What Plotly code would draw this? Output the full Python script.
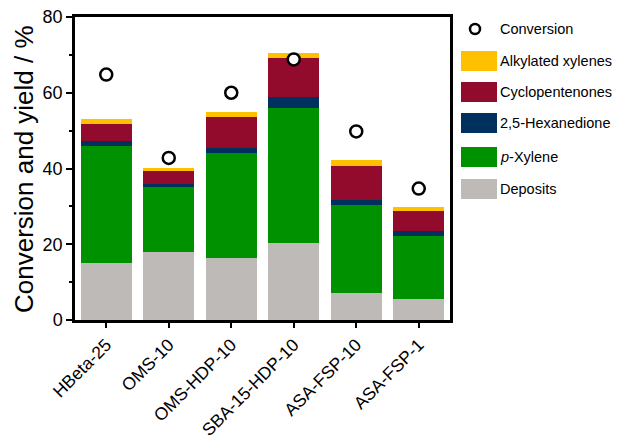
import plotly.graph_objects as go

categories = ["HBeta-25", "OMS-10", "OMS-HDP-10", "SBA-15-HDP-10", "ASA-FSP-10", "ASA-FSP-1"]
deposits = [15.0, 17.9, 16.4, 20.2, 7.1, 5.6]
p_xylene = [30.9, 17.3, 27.7, 35.7, 23.2, 16.6]
hexanedione = [1.4, 0.7, 1.4, 3.0, 1.5, 1.2]
cyclopentenones = [4.5, 3.4, 8.1, 10.2, 8.8, 5.3]
alkylated_xylenes = [1.2, 0.9, 1.3, 1.3, 1.7, 1.2]
conversion = [64.8, 42.8, 60.0, 68.8, 49.8, 34.7]
y_ticks = [0, 20, 40, 60, 80]
y_minor_ticks = [10, 30, 50, 70]

series = [
    ("Deposits", deposits, "#BEBAB8"),
    ("<i>p</i>-Xylene", p_xylene, "#009100"),
    ("2,5-Hexanedione", hexanedione, "#00305E"),
    ("Cyclopentenones", cyclopentenones, "#930B2C"),
    ("Alkylated xylenes", alkylated_xylenes, "#FFC000"),
]

FONT = "Liberation Sans, Arial, sans-serif"

fig = go.Figure()
for name, vals, col in series:
    fig.add_trace(go.Bar(x=categories, y=vals, name=name, marker=dict(color=col, line=dict(width=0)),
                         showlegend=False))
fig.add_trace(go.Scatter(x=categories, y=conversion, mode="markers", name="Conversion",
                         marker=dict(symbol="circle", size=12, color="white",
                                     line=dict(color="black", width=2.5)),
                         showlegend=False))

fig.update_layout(
    width=621, height=442,
    margin=dict(l=75, r=171, t=17, b=122, autoexpand=False),
    barmode="stack", bargap=0.18,
    plot_bgcolor="white", paper_bgcolor="white",
    font=dict(family=FONT, color="black", size=18),
)
fig.update_xaxes(
    automargin=False,
    showline=True, linewidth=2.5, linecolor="black", mirror=True,
    ticks="outside", ticklen=5, tickwidth=2, tickcolor="black",
    tickangle=-45, tickfont=dict(size=17.5), showgrid=False,
)
fig.update_yaxes(
    automargin=False,
    range=[0, 80], tickvals=y_ticks,
    showline=True, linewidth=2.5, linecolor="black", mirror=True,
    ticks="outside", ticklen=6, tickwidth=2, tickcolor="black",
    minor=dict(tickvals=y_minor_ticks, ticks="outside", ticklen=3, tickwidth=2, tickcolor="black"),
    showgrid=False, zeroline=False,
    tickfont=dict(size=18),
)

plot_left, plot_right, plot_top, plot_bot = 75, 450, 17, 320
def px_to_paper_x(px):
    return (px - plot_left) / (plot_right - plot_left)
def px_to_paper_y(py):
    return (plot_bot - py) / (plot_bot - plot_top)

# y-axis title
fig.add_annotation(xref="paper", yref="paper", x=px_to_paper_x(24), y=px_to_paper_y(169),
                   text="Conversion and yield / %", textangle=-90, showarrow=False,
                   xanchor="center", yanchor="middle",
                   font=dict(size=26, family=FONT, color="black"))

# manual legend (paper coordinates)
legend_items = [
    ("Conversion", None),
    ("Alkylated xylenes", "#FFC000"),
    ("Cyclopentenones", "#930B2C"),
    ("2,5-Hexanedione", "#00305E"),
    ("<i>p</i>-Xylene", "#009100"),
    ("Deposits", "#BEBAB8"),
]
row_y = [29, 61, 92, 123, 157, 189]
for (label, col), ry in zip(legend_items, row_y):
    if col is None:
        fig.add_shape(type="circle", xref="paper", yref="paper",
                      x0=px_to_paper_x(470), x1=px_to_paper_x(480),
                      y0=px_to_paper_y(ry + 5), y1=px_to_paper_y(ry - 5),
                      line=dict(color="black", width=2.5), fillcolor="white")
    else:
        fig.add_shape(type="rect", xref="paper", yref="paper",
                      x0=px_to_paper_x(461), x1=px_to_paper_x(497),
                      y0=px_to_paper_y(ry + 10), y1=px_to_paper_y(ry - 10),
                      line=dict(width=0), fillcolor=col)
    fig.add_annotation(xref="paper", yref="paper", x=px_to_paper_x(499), y=px_to_paper_y(ry),
                       text=label, showarrow=False, xanchor="left", yanchor="middle",
                       borderpad=0,
                       font=dict(size=14.5, family=FONT, color="black"))

fig.write_html("out.html", config={"displayModeBar": False},
               post_script="document.body.style.margin='0';")
